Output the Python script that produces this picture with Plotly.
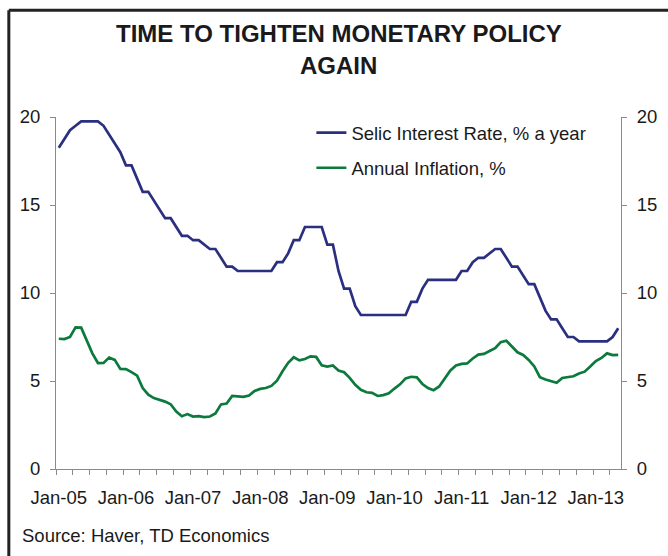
import plotly.graph_objects as go

# ---------------- data ----------------
year_labels = ["Jan-05", "Jan-06", "Jan-07", "Jan-08", "Jan-09",
               "Jan-10", "Jan-11", "Jan-12", "Jan-13"]

# monthly, Jan-05 .. May-13
selic = [
    18.25, 18.75, 19.25, 19.5, 19.75, 19.75, 19.75, 19.75, 19.5, 19.0, 18.5, 18.0,   # 2005
    17.25, 17.25, 16.5, 15.75, 15.75, 15.25, 14.75, 14.25, 14.25, 13.75, 13.25, 13.25,  # 2006
    13.0, 13.0, 12.75, 12.5, 12.5, 12.0, 11.5, 11.5, 11.25, 11.25, 11.25, 11.25,   # 2007
    11.25, 11.25, 11.25, 11.75, 11.75, 12.25, 13.0, 13.0, 13.75, 13.75, 13.75, 13.75,  # 2008
    12.75, 12.75, 11.25, 10.25, 10.25, 9.25, 8.75, 8.75, 8.75, 8.75, 8.75, 8.75,   # 2009
    8.75, 8.75, 8.75, 9.5, 9.5, 10.25, 10.75, 10.75, 10.75, 10.75, 10.75, 10.75,   # 2010
    11.25, 11.25, 11.75, 12.0, 12.0, 12.25, 12.5, 12.5, 12.0, 11.5, 11.5, 11.0,    # 2011
    10.5, 10.5, 9.75, 9.0, 8.5, 8.5, 8.0, 7.5, 7.5, 7.25, 7.25, 7.25,              # 2012
    7.25, 7.25, 7.25, 7.5, 8.0,                                                    # 2013
]

inflation = [
    7.4, 7.38, 7.5, 8.05, 8.03, 7.28, 6.57, 6.02, 6.03, 6.33, 6.2, 5.69,    # 2005
    5.68, 5.5, 5.3, 4.6, 4.22, 4.03, 3.95, 3.83, 3.68, 3.26, 3.0, 3.12,     # 2006
    2.98, 3.0, 2.95, 2.98, 3.15, 3.67, 3.72, 4.15, 4.13, 4.1, 4.17, 4.43,   # 2007
    4.55, 4.6, 4.72, 5.02, 5.55, 6.03, 6.35, 6.17, 6.25, 6.4, 6.37, 5.89,  # 2008
    5.82, 5.88, 5.6, 5.5, 5.18, 4.78, 4.5, 4.36, 4.33, 4.15, 4.2, 4.3,     # 2009
    4.57, 4.81, 5.15, 5.24, 5.21, 4.83, 4.6, 4.48, 4.69, 5.17, 5.6, 5.88,  # 2010
    5.97, 6.0, 6.28, 6.5, 6.54, 6.7, 6.86, 7.21, 7.29, 6.96, 6.63, 6.48,   # 2011
    6.2, 5.83, 5.22, 5.08, 4.98, 4.9, 5.17, 5.22, 5.27, 5.43, 5.53, 5.82,  # 2012
    6.13, 6.31, 6.57, 6.47, 6.49,                                          # 2013
]

series_names = ["Selic Interest Rate, % a year", "Annual Inflation, %"]
title_lines = ["TIME TO TIGHTEN MONETARY POLICY", "AGAIN"]
y_ticks = [0, 5, 10, 15, 20]

# ---------------- figure ----------------
FONT = "Liberation Sans, Arial, Helvetica, sans-serif"
NAVY = "#2b2f7f"
GREEN = "#0c7a3c"
AXIS = "#8a8a8a"
TEXT = "#1a1a1a"
FS = 18.5

months = list(range(len(selic)))
year_pos = [12 * k for k in range(len(year_labels))]

fig = go.Figure()
fig.add_trace(go.Scatter(
    x=months, y=selic, mode="lines", name=series_names[0],
    line=dict(color=NAVY, width=2.7), legendgroup="a", yaxis="y"))
fig.add_trace(go.Scatter(
    x=months, y=inflation, mode="lines", name=series_names[1],
    line=dict(color=GREEN, width=2.7), legendgroup="b", yaxis="y2"))

title_annots = [
    dict(text="<b>%s</b>" % title_lines[0], xref="paper", yref="paper",
         x=0.5, y=1.2385, xanchor="center", yanchor="middle", showarrow=False,
         font=dict(family=FONT, size=24, color=TEXT)),
    dict(text="<b>%s</b>" % title_lines[1], xref="paper", yref="paper",
         x=0.5, y=1.1475, xanchor="center", yanchor="middle", showarrow=False,
         font=dict(family=FONT, size=24, color=TEXT)),
]

fig.update_layout(
    width=668, height=556,
    margin=dict(l=56, r=47, t=117, b=87, autoexpand=False),
    paper_bgcolor="white", plot_bgcolor="white",
    font=dict(family=FONT, size=FS, color=TEXT),
    showlegend=True,
    legend=dict(
        x=0.452, y=1.008, xref="paper", yref="paper",
        xanchor="left", yanchor="top",
        bgcolor="rgba(0,0,0,0)", borderwidth=0,
        font=dict(family=FONT, size=FS, color=TEXT),
        tracegroupgap=8, itemwidth=30),
    xaxis=dict(
        range=[-0.5, len(selic) - 0.5],
        tickmode="array", tickvals=year_pos, ticktext=year_labels,
        ticks="", ticklabelstandoff=12,
        showline=True, linecolor=AXIS, linewidth=1,
        showgrid=False, zeroline=False, automargin=False,
        tickfont=dict(family=FONT, size=FS, color=TEXT),
        minor=dict(tick0=-0.5, dtick=3, ticks="outside", ticklen=5,
                   tickcolor=AXIS, tickwidth=1, showgrid=False),
    ),
    yaxis=dict(
        range=[0, 20], tickvals=y_ticks,
        ticks="outside", ticklen=5, tickcolor=AXIS, tickwidth=1,
        ticklabelstandoff=6, automargin=False,
        showline=True, linecolor=AXIS, linewidth=1,
        showgrid=False, zeroline=False,
        tickfont=dict(family=FONT, size=FS, color=TEXT),
    ),
    yaxis2=dict(
        range=[0, 20], tickvals=y_ticks, overlaying="y", side="right",
        ticks="outside", ticklen=5, tickcolor=AXIS, tickwidth=1,
        ticklabelstandoff=6, automargin=False,
        showline=True, linecolor=AXIS, linewidth=1,
        showgrid=False, zeroline=False,
        tickfont=dict(family=FONT, size=FS, color=TEXT),
    ),
    annotations=title_annots + [dict(
        text="Source: Haver, TD Economics",
        xref="paper", yref="paper", x=-0.063, y=-0.19,
        xanchor="left", yanchor="middle", showarrow=False,
        font=dict(family=FONT, size=FS, color=TEXT))],
    shapes=[
        # chart frame (left and top edges, as in the original)
        dict(type="line", xref="paper", yref="paper",
             x0=-0.0835, x1=1.2, y0=1.303, y1=1.303,
             line=dict(color="#222222", width=3)),
        dict(type="line", xref="paper", yref="paper",
             x0=-0.0835, x1=-0.0835, y0=1.303, y1=-0.3,
             line=dict(color="#222222", width=3)),
    ],
)

fig.write_html(
    "out.html",
    config={"displayModeBar": False},
    post_script="document.body.style.margin='0';document.body.style.padding='0';",
)
